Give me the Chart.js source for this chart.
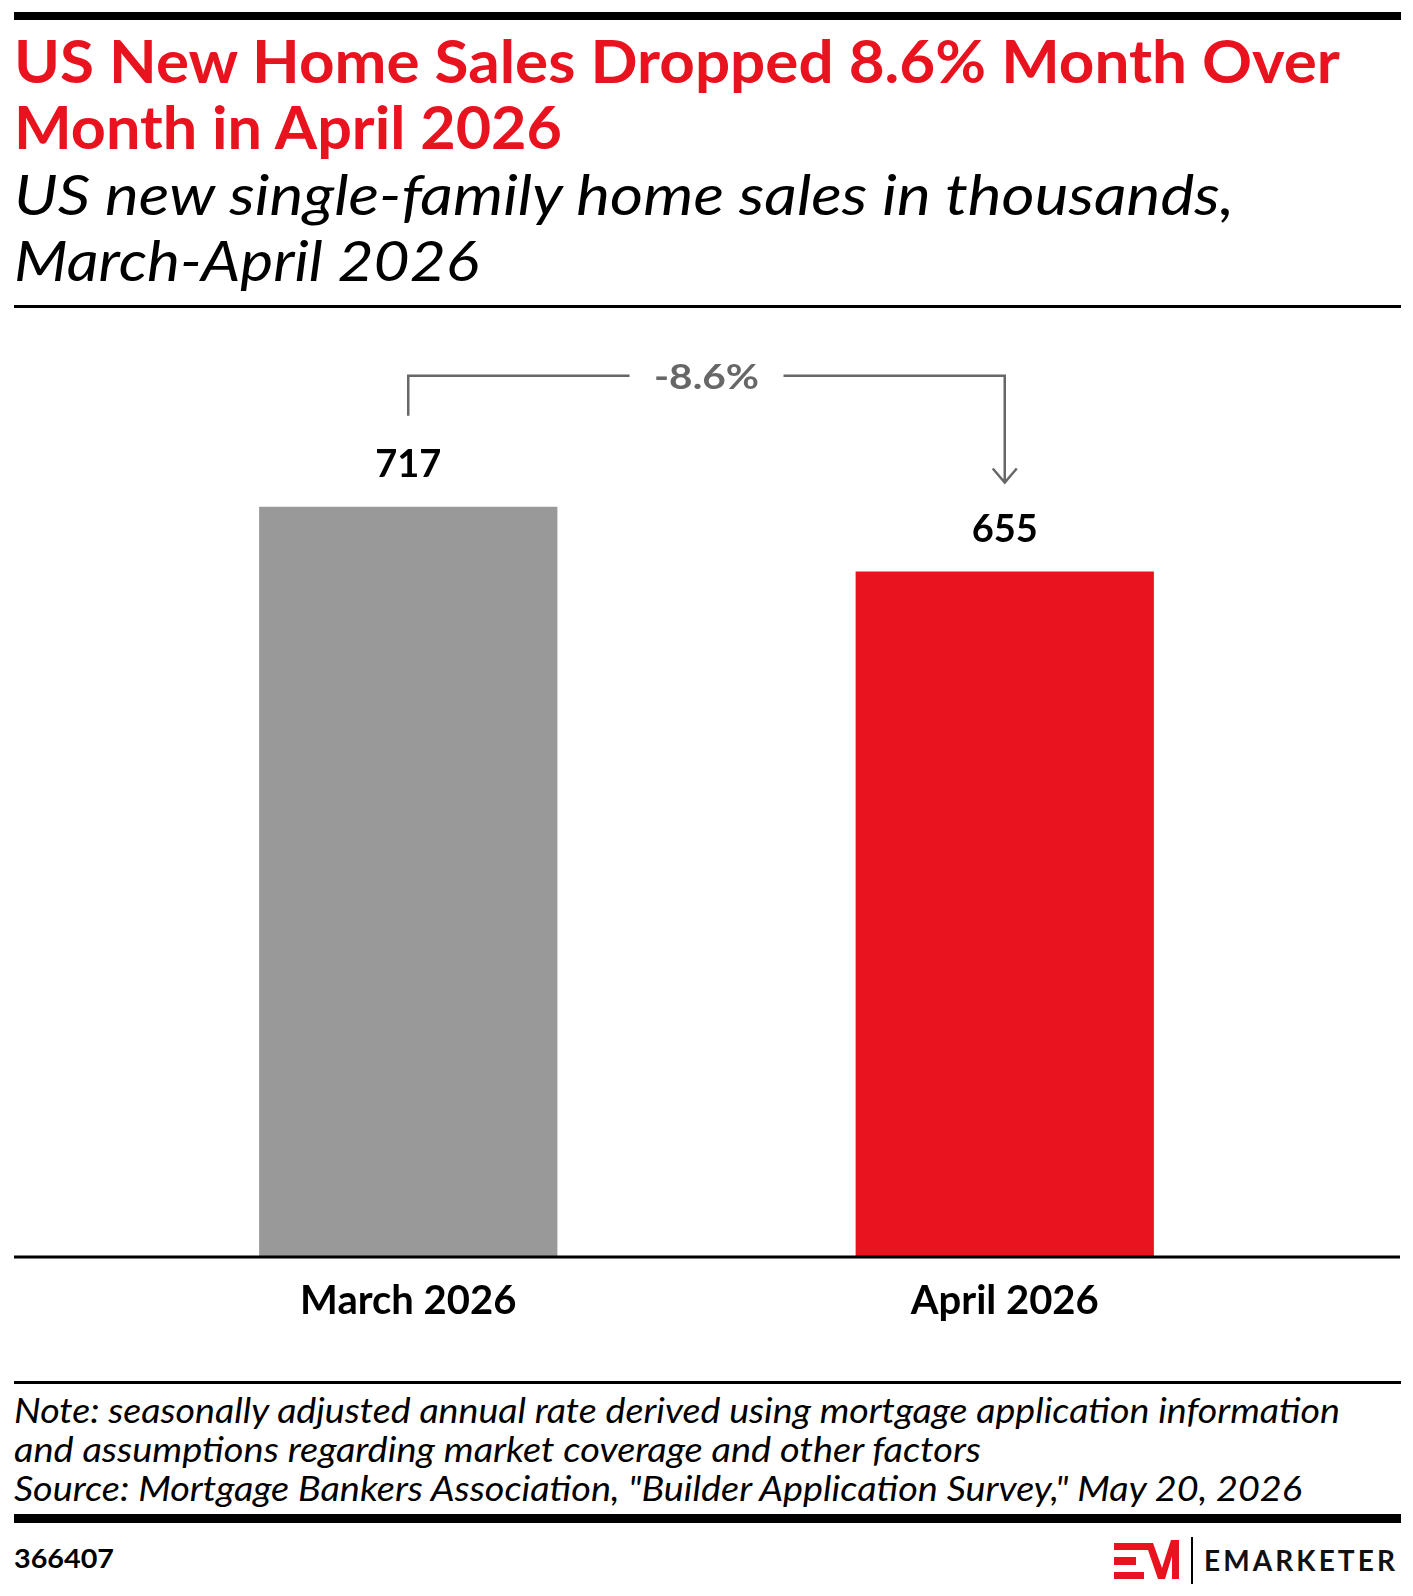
<!DOCTYPE html>
<html>
<head>
<meta charset="utf-8">
<title>US New Home Sales</title>
<script src="https://cdn.jsdelivr.net/npm/chart.js@4.4.1/dist/chart.umd.min.js"></script>
<style>
  body { margin: 0; background: #fff; }
  #page { position: relative; width: 1413px; height: 1596px; overflow: hidden; font-family: Lato, sans-serif; }
  .rule { position: absolute; left: 14px; width: 1387px; background: #000; }
  .txt { position: absolute; left: 0; top: 0; white-space: nowrap; line-height: 1; transform-origin: 0 0; }
  .bl { display: inline-block; width: 0; height: 0; }
  .title { font-weight: 700; font-size: 60px; color: #e9121f; }
  .sub { font-style: italic; font-size: 56px; color: #000; }
  .note { font-style: italic; font-size: 35px; color: #000; }
  #chartBox { position: absolute; left: 0; top: 320px; width: 1413px; height: 1060px; }
</style>
</head>
<body>
<div id="page">
  <div class="rule" style="top:12px;height:8px"></div>

  <div class="txt title" data-x="14" data-base="83" data-w="1326">US New Home Sales Dropped 8.6% Month Over<span class="bl"></span></div>
  <div class="txt title" data-x="14" data-base="149" data-w="548">Month in April 2026<span class="bl"></span></div>
  <div class="txt sub" data-x="14" data-base="215" data-w="1220">US new single-family home sales in thousands,<span class="bl"></span></div>
  <div class="txt sub" data-x="14" data-base="281" data-w="465">March-April 2026<span class="bl"></span></div>

  <div class="rule" style="top:305px;height:2.5px"></div>

  <div id="chartBox"><canvas id="salesChart"></canvas></div>

  <div class="rule" style="top:1381px;height:2.5px"></div>

  <div class="txt note" data-x="14" data-base="1423" data-w="1326">Note: seasonally adjusted annual rate derived using mortgage application information<span class="bl"></span></div>
  <div class="txt note" data-x="14" data-base="1462" data-w="967">and assumptions regarding market coverage and other factors<span class="bl"></span></div>
  <div class="txt note" data-x="14" data-base="1501" data-w="1288">Source: Mortgage Bankers Association, "Builder Application Survey," May 20, 2026<span class="bl"></span></div>

  <div class="rule" style="top:1514px;height:9px"></div>

  <div class="txt" style="font-weight:700;font-size:27px;color:#000" data-x="14" data-base="1568" data-w="100">366407<span class="bl"></span></div>

  <svg style="position:absolute;left:1114px;top:1540px" width="66" height="40" viewBox="0 0 66 40">
    <rect x="0" y="3" width="31" height="7" fill="#e9121f"/>
    <rect x="0" y="17" width="22" height="8" fill="#e9121f"/>
    <rect x="0" y="32" width="30" height="7" fill="#e9121f"/>
    <polygon points="29,3 39,3 48,28 57,0 65,0 65,39 58,39 58,16 51,39 44,39 34,10 29,10" fill="#e9121f"/>
  </svg>
  <div style="position:absolute;left:1191px;top:1537px;width:1.5px;height:47px;background:#000"></div>
  <div class="txt" style="font-weight:700;font-size:28px;color:#111" data-x="1204" data-base="1571" data-w="194" data-track="1">EMARKETER<span class="bl"></span></div>
</div>

<script>
// data
const categories = ['March 2026', 'April 2026'];
const sales = [717, 655];

const colors = {
    march: '#999999',
    april: '#e9121f',
    annotation: '#676767',
    text: '#000000'
};

// place text lines by baseline and stretch them to the reference widths
function placeText(el) {
    el.style.left = el.dataset.x + 'px';
    el.style.top = '0px';
    const target = +el.dataset.w;
    if (target) {
        const natural = el.getBoundingClientRect().width;
        if (el.dataset.track) {
            el.style.letterSpacing = ((target - natural) / el.textContent.length) + 'px';
        } else {
            el.style.transform = 'scaleX(' + (target / natural) + ')';
        }
    }
    const marker = el.querySelector('.bl');
    const pageTop = document.getElementById('page').getBoundingClientRect().top;
    const y = marker.getBoundingClientRect().top - pageTop;
    el.style.top = (+el.dataset.base - y) + 'px';
}
document.querySelectorAll('.txt').forEach(placeText);

// value labels, change bracket and the full-width baseline
const overlayPlugin = {
    id: 'overlay',
    afterDatasetsDraw(chart) {
        const ctx = chart.ctx;
        const bars = chart.getDatasetMeta(0).data;
        const zeroY = chart.scales.y.getPixelForValue(0);

        ctx.save();
        // baseline across the whole card
        ctx.strokeStyle = '#000';
        ctx.lineWidth = 3;
        ctx.beginPath();
        ctx.moveTo(14, zeroY + 1);
        ctx.lineTo(1400, zeroY + 1);
        ctx.stroke();

        // value labels
        ctx.fillStyle = colors.text;
        ctx.font = 'bold 38px Lato, sans-serif';
        ctx.textAlign = 'center';
        ctx.textBaseline = 'alphabetic';
        bars.forEach(function(bar, i) {
            ctx.fillText(sales[i], bar.x, bar.y - 30);
        });

        // change bracket
        const a = bars[0], b = bars[1];
        const lineY = Math.min(a.y, b.y) - 131;
        const midX = (a.x + b.x) / 2;
        const gap = 77;
        ctx.strokeStyle = colors.annotation;
        ctx.lineWidth = 2.5;
        ctx.beginPath();
        ctx.moveTo(a.x, a.y - 91);
        ctx.lineTo(a.x, lineY);
        ctx.lineTo(midX - gap, lineY);
        ctx.moveTo(midX + gap, lineY);
        ctx.lineTo(b.x, lineY);
        ctx.lineTo(b.x, b.y - 89);
        ctx.moveTo(b.x - 12, b.y - 103);
        ctx.lineTo(b.x, b.y - 89);
        ctx.lineTo(b.x + 12, b.y - 103);
        ctx.stroke();

        // change label, stretched to the width it has in the design
        const change = ((sales[1] - sales[0]) / sales[0] * 100).toFixed(1) + '%';
        ctx.fillStyle = colors.annotation;
        ctx.font = 'bold 35px Lato, sans-serif';
        const sx = 105 / ctx.measureText(change).width;
        ctx.translate(midX, lineY + 13);
        ctx.scale(sx, 1);
        ctx.fillText(change, 0, 0);
        ctx.restore();
    }
};

new Chart(document.getElementById('salesChart').getContext('2d'), {
    type: 'bar',
    data: {
        labels: categories,
        datasets: [{
            data: sales,
            backgroundColor: [colors.march, colors.april],
            borderWidth: 0,
            barPercentage: 0.5,
            categoryPercentage: 1
        }]
    },
    options: {
        responsive: true,
        maintainAspectRatio: false,
        animation: false,
        layout: {
            padding: { left: 110, right: 110, top: 100, bottom: 0 }
        },
        plugins: {
            legend: { display: false },
            tooltip: { enabled: false }
        },
        scales: {
            y: {
                display: false,
                min: 0,
                max: 800
            },
            x: {
                grid: { display: false, drawTicks: false },
                border: { display: false },
                ticks: {
                    color: colors.text,
                    padding: 21,
                    font: { family: 'Lato, sans-serif', size: 40, weight: 'bold' }
                },
                afterFit: function(scale) {
                    scale.height = 124;
                }
            }
        }
    },
    plugins: [overlayPlugin]
});
</script>
</body>
</html>
